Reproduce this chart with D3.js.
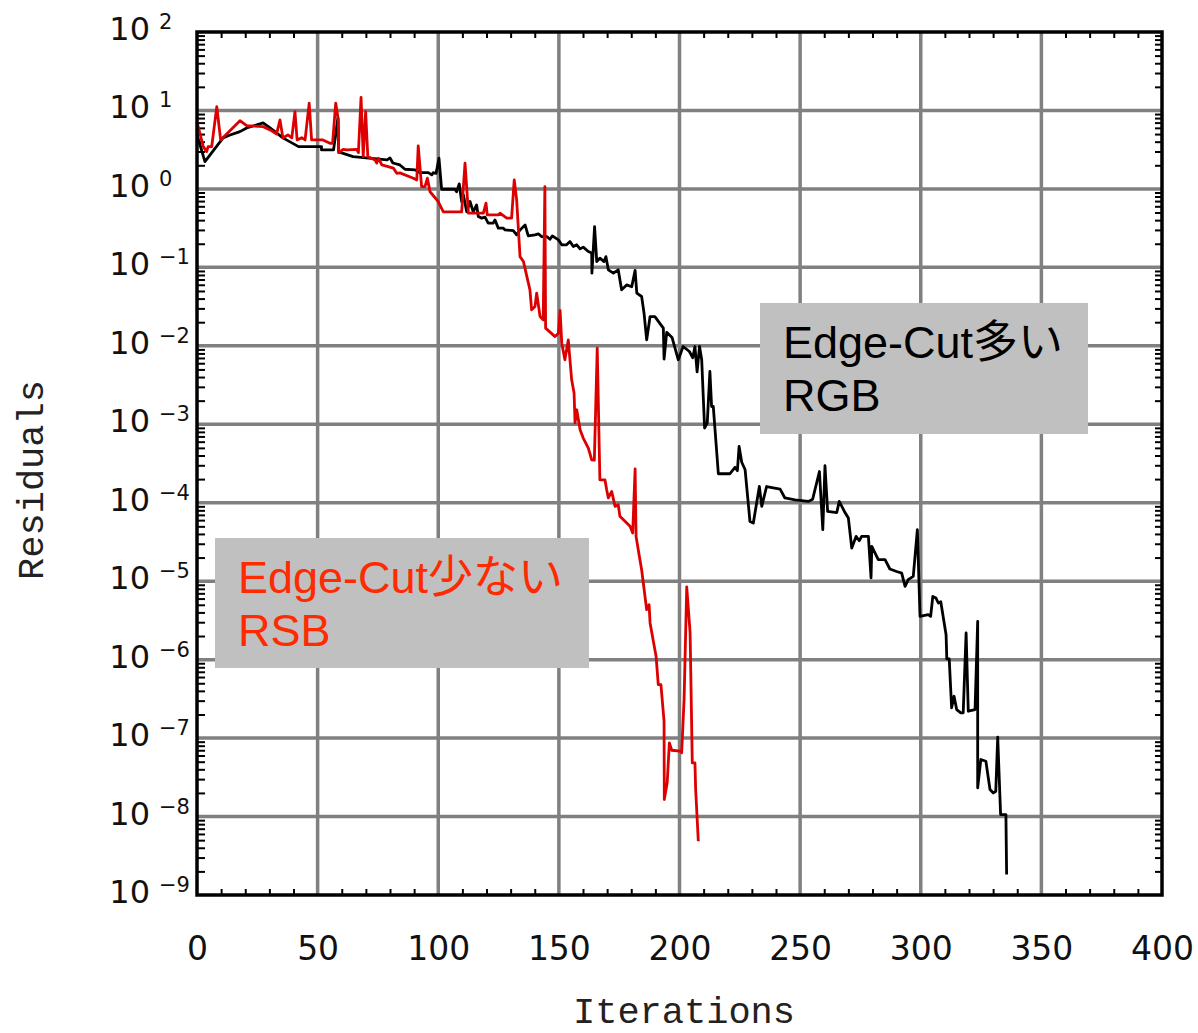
<!DOCTYPE html>
<html>
<head>
<meta charset="utf-8">
<title>Residuals vs Iterations</title>
<script src="https://cdn.jsdelivr.net/npm/d3@7"></script>
<style>
  body { margin: 0; background: #fff; }
  .grid line { stroke: #808080; stroke-width: 3.5; }
  .minor line { stroke: #000; stroke-width: 2; }
  .minor path { display: none; }
  .xlab text { font-family: "DejaVu Sans"; font-size: 33px; fill: #111; }
  .xlab path, .xlab line { display: none; }
  .ylab { font-family: "DejaVu Sans"; fill: #111; }
  .title { font-family: "Liberation Mono", monospace; font-size: 37px; fill: #222; }
  .legend text { font-family: "Liberation Sans", "Noto Sans CJK JP", sans-serif; font-size: 45px; }
  path.series { fill: none; stroke-width: 2.8; stroke-linejoin: round; }
</style>
</head>
<body>
<svg id="chart" width="1198" height="1033"></svg>
<script>
// ---- data: [iteration, residual] ----
const xTicks = [0, 50, 100, 150, 200, 250, 300, 350, 400]
const yExponents = [2, 1, 0, -1, -2, -3, -4, -5, -6, -7, -8, -9]

// "Edge-Cut多い RGB" (black)
const rgbSeries = [
  [0, 4.9], [3.3, 2.23], [10.8, 4.47], [13.7, 4.87], [17.8, 5.37], [20.6, 5.98], [27.4, 6.93],
  [30.3, 5.98], [35.6, 4.47], [42.1, 3.46], [51.6, 3.46], [51.6, 3.14], [56.6, 3.14], [58.4, 8.02],
  [58.7, 2.96], [64.7, 2.58], [78.8, 2.34], [80.0, 2.48], [81.2, 2.14], [84.1, 2.02], [86.2, 1.78],
  [90.4, 1.75], [92.4, 1.61], [95.9, 1.61], [97.3, 1.51], [97.9, 1.61], [99.1, 1.58], [100.3, 2.46],
  [101.4, 0.99], [106.9, 0.99], [107.6, 0.92], [108.7, 1.16], [109.7, 0.69], [110.4, 0.84],
  [111.8, 0.51], [113.2, 0.69], [114.5, 0.51], [115.9, 0.625], [116.6, 0.444], [118.0, 0.424],
  [119.4, 0.436], [120.7, 0.366], [122.8, 0.366], [123.5, 0.403], [124.9, 0.316], [127.0, 0.316],
  [127.7, 0.30], [131.1, 0.294], [132.5, 0.26], [133.9, 0.30], [136.0, 0.348], [137.3, 0.252],
  [140.1, 0.26], [141.5, 0.267], [142.9, 0.247], [145.0, 0.247], [146.3, 0.228], [147.3, 0.252],
  [149.8, 0.224], [151.2, 0.194], [153.2, 0.194], [154.6, 0.213], [156.0, 0.184], [157.4, 0.194],
  [158.8, 0.172], [160.1, 0.181], [162.2, 0.159], [163.6, 0.152], [163.7, 0.0843], [164.8, 0.331],
  [165.7, 0.1186], [167.0, 0.131], [168.7, 0.1186], [169.5, 0.137], [170.5, 0.093], [172.6, 0.0843],
  [174.6, 0.093], [176.0, 0.0517], [178.1, 0.0598], [180.2, 0.0565], [181.6, 0.0916], [182.3, 0.0469],
  [184.3, 0.0425], [185.3, 0.0261], [186.4, 0.0119], [187.8, 0.0236], [189.8, 0.0236], [193.3, 0.0168],
  [193.6, 0.00678], [194.7, 0.01486], [196.9, 0.0128], [199.5, 0.00664], [201.5, 0.0098],
  [204.1, 0.00846], [205.5, 0.00703], [206.4, 0.0098], [207.3, 0.00467], [208.3, 0.0098],
  [209.2, 0.00664], [210.4, 8.95e-4], [211.5, 1.035e-3], [212.6, 4.71e-3], [213.3, 1.686e-3],
  [214.0, 1.686e-3], [216.1, 2.34e-4], [220.9, 2.34e-4], [223.0, 2.83e-4], [224.0, 2.56e-4],
  [224.7, 5.21e-4], [225.8, 3.28e-4], [227.2, 2.63e-4], [229.2, 5.78e-5], [230.6, 5.51e-5],
  [233.1, 1.61e-4], [234.1, 8.98e-5], [236.1, 1.61e-4], [241.7, 1.49e-4], [243.7, 1.15e-4],
  [247.9, 1.09e-4], [253.4, 1.04e-4], [255.2, 1.11e-4], [258.0, 2.5e-4], [259.4, 4.53e-5],
  [260.3, 2.96e-4], [261.4, 7.76e-5], [265.2, 7.5e-5], [266.2, 1.04e-4], [268.6, 7.5e-5],
  [270.0, 6.38e-5], [271.4, 2.65e-5], [273.2, 3.72e-5], [274.5, 3.28e-5], [275.5, 3.72e-5],
  [278.3, 3.72e-5], [279.4, 1.1e-5], [279.7, 2.77e-5], [282.4, 1.88e-5], [285.2, 1.88e-5],
  [287.2, 1.43e-5], [290.0, 1.33e-5], [292.1, 1.27e-5], [293.5, 8.59e-6], [294.8, 1.045e-5],
  [296.9, 1.15e-5], [298.6, 4.53e-5], [299.7, 3.56e-6], [303.1, 3.74e-6], [304.1, 3.56e-6],
  [305.0, 6.4e-6], [306.3, 6.1e-6], [307.3, 5.27e-6], [308.3, 5.47e-6], [310.5, 2.08e-6],
  [310.8, 1.02e-6], [311.8, 1.02e-6], [312.8, 2.43e-7], [313.8, 3.41e-7], [314.9, 2.31e-7],
  [316.6, 2.1e-7], [317.6, 2.1e-7], [318.8, 2.19e-6], [319.7, 2.2e-7], [322.5, 2.31e-7],
  [323.6, 3.08e-6], [323.6, 2.32e-8], [324.9, 5.33e-8], [327.0, 5.07e-8], [328.7, 2.21e-8],
  [330.1, 2.0e-8], [331.1, 2.1e-8], [331.9, 1.03e-7], [333.1, 1.06e-8], [335.3, 1.06e-8],
  [335.6, 1.82e-9]
]

// "Edge-Cut少ない RSB" (red)
const rsbSeries = [
  [0, 7.1], [2.6, 3.46], [4.0, 2.99], [4.6, 3.46], [6.1, 3.46], [8.2, 11.2], [9.8, 4.21],
  [17.8, 7.41], [20.6, 6.4], [27.4, 6.22], [30.3, 5.65], [33.0, 5.02], [34.4, 7.57], [35.6, 4.47],
  [37.7, 4.87], [39.3, 4.47], [40.6, 9.66], [41.5, 4.21], [43.4, 4.5], [44.8, 4.21], [46.5, 12.4],
  [47.5, 4.21], [52.2, 4.21], [55.1, 3.82], [56.2, 3.82], [57.5, 12.4], [58.6, 7.57], [58.7, 2.9],
  [60.6, 3.2], [62.1, 3.14], [66.2, 3.2], [66.9, 2.9], [68.0, 14.7], [68.9, 2.58], [69.9, 9.66],
  [70.8, 2.58], [73.8, 2.34], [74.5, 2.13], [75.2, 2.46], [76.6, 2.02], [81.4, 1.84], [82.8, 1.58],
  [84.1, 1.6], [89.7, 1.37], [91.1, 1.30], [91.7, 3.53], [93.1, 1.07], [94.5, 1.07], [95.5, 1.37],
  [96.6, 0.92], [100.0, 0.69], [102.1, 0.51], [109.7, 0.51], [111.1, 2.13], [112.5, 0.49],
  [118.7, 0.49], [119.8, 0.657], [120.3, 0.466], [124.9, 0.466], [125.6, 0.49], [128.4, 0.424],
  [130.4, 0.424], [131.5, 1.30], [132.5, 0.724], [133.9, 0.137], [135.3, 0.119], [138.0, 0.0517],
  [138.7, 0.0288], [140.1, 0.0317], [140.8, 0.0469], [142.2, 0.0236], [143.5, 0.0214], [144.2, 1.07],
  [144.5, 0.0168], [148.4, 0.0131], [149.8, 0.0145], [150.5, 0.0282], [151.2, 0.0108],
  [152.5, 0.00664], [153.9, 0.0119], [155.3, 0.00369], [156.3, 0.0025], [156.7, 0.00104],
  [157.4, 0.00153], [158.8, 8.5e-4], [160.1, 6.67e-4], [162.2, 4.97e-4], [163.6, 3.53e-4],
  [164.7, 3.48e-4], [165.9, 9.35e-3], [167.0, 1.96e-4], [169.1, 1.96e-4], [169.8, 1.47e-4],
  [170.5, 1.15e-4], [171.9, 1.39e-4], [173.3, 8.98e-5], [174.6, 9.43e-5], [175.3, 6.7e-5],
  [179.5, 5.0e-5], [180.6, 4.12e-5], [181.6, 2.69e-4], [182.0, 3.72e-5], [182.9, 2.52e-5],
  [184.3, 1.4e-5], [186.4, 4.33e-6], [187.4, 5.02e-6], [187.8, 2.94e-6], [190.3, 1.1e-6],
  [191.2, 4.8e-7], [192.3, 4.8e-7], [193.6, 1.64e-7], [193.7, 1.65e-8], [194.9, 2.69e-8],
  [195.8, 8.7e-8], [196.8, 7.0e-8], [200.2, 6.8e-8], [200.9, 6.5e-8], [201.9, 3.09e-7],
  [203.0, 8.43e-6], [204.4, 2.19e-6], [205.3, 4.83e-8], [206.4, 4.83e-8], [206.7, 2.21e-8],
  [207.8, 4.84e-9]
]

const legendRGB = ["Edge-Cut多い", "RGB"]
const legendRSB = ["Edge-Cut少ない", "RSB"]

// ---- layout ----
const svg = d3.select("#chart")
const plotL = 197, plotR = 1162, plotT = 32, plotB = 895

const x = d3.scaleLinear().domain([0, 400]).range([plotL, plotR])
const y = d3.scaleLog().domain([1e-9, 1e2]).range([plotB, plotT])

// grid lines
const grid = svg.append("g").attr("class", "grid")
grid.selectAll("line.v")
    .data(xTicks.slice(1, -1))
    .join("line")
    .attr("class", "v")
    .attr("x1", d => x(d)).attr("x2", d => x(d))
    .attr("y1", plotT).attr("y2", plotB)
grid.selectAll("line.h")
    .data(yExponents.slice(1, -1))
    .join("line")
    .attr("class", "h")
    .attr("x1", plotL).attr("x2", plotR)
    .attr("y1", d => y(Math.pow(10, d))).attr("y2", d => y(Math.pow(10, d)))

// minor ticks, pointing inward
const xMinor = d3.range(10, 400, 10).filter(d => d % 50 !== 0)
const yMinor = []
yExponents.slice(1).forEach(e => {
  for (let m = 2; m <= 9; m++) yMinor.push(m * Math.pow(10, e))
})

svg.append("g").attr("class", "minor")
   .attr("transform", `translate(0,${plotB})`)
   .call(d3.axisBottom(x).tickValues(xMinor).tickSize(-6).tickFormat(""))
svg.append("g").attr("class", "minor")
   .attr("transform", `translate(0,${plotT})`)
   .call(d3.axisTop(x).tickValues(xMinor).tickSize(-6).tickFormat(""))
svg.append("g").attr("class", "minor")
   .attr("transform", `translate(${plotL},0)`)
   .call(d3.axisLeft(y).tickValues(yMinor).tickSize(-8).tickFormat(""))
svg.append("g").attr("class", "minor")
   .attr("transform", `translate(${plotR},0)`)
   .call(d3.axisRight(y).tickValues(yMinor).tickSize(-7).tickFormat(""))

// x tick labels
svg.append("g").attr("class", "xlab")
   .attr("transform", `translate(0,${plotB})`)
   .call(d3.axisBottom(x).tickValues(xTicks).tickSize(0).tickPadding(0).tickFormat(d3.format("d")))
   .selectAll("text").attr("dy", null).attr("y", 65)

// y tick labels: 10 with exponent
const ylab = svg.append("g")
ylab.selectAll("text.base")
    .data(yExponents)
    .join("text")
    .attr("class", "ylab base")
    .attr("x", 150)
    .attr("y", d => y(Math.pow(10, d)) + 8)
    .attr("text-anchor", "end")
    .style("font-size", "32px")
    .text("10")
ylab.selectAll("text.exp")
    .data(yExponents)
    .join("text")
    .attr("class", "ylab exp")
    .attr("x", 159)
    .attr("y", d => y(Math.pow(10, d)) - 3)
    .style("font-size", "21px")
    .text(d => d < 0 ? "\u2212" + (-d) : String(d))

// series
const line = d3.line().x(d => x(d[0])).y(d => y(d[1]))
svg.append("path").attr("class", "series")
   .datum(rgbSeries).attr("stroke", "#000").attr("d", line)
svg.append("path").attr("class", "series")
   .datum(rsbSeries).attr("stroke", "#dd0000").attr("d", line)

// frame
svg.append("rect")
   .attr("x", plotL).attr("y", plotT)
   .attr("width", plotR - plotL).attr("height", plotB - plotT)
   .attr("fill", "none").attr("stroke", "#000").attr("stroke-width", 3.5)

// axis titles
svg.append("text").attr("class", "title")
   .attr("x", 684).attr("y", 1023)
   .attr("text-anchor", "middle")
   .text("Iterations")
svg.append("text").attr("class", "title")
   .attr("transform", "translate(43,480) rotate(-90)")
   .attr("text-anchor", "middle")
   .text("Residuals")

// legend boxes
function legendBox(bx, by, bw, bh, lines, color) {
  const g = svg.append("g").attr("class", "legend")
  g.append("rect").attr("x", bx).attr("y", by)
   .attr("width", bw).attr("height", bh).attr("fill", "#c0c0c0")
  g.selectAll("text").data(lines).join("text")
   .attr("x", bx + 23)
   .attr("y", (d, i) => by + 55 + i * 53)
   .attr("fill", color)
   .text(d => d)
}
legendBox(760, 303, 328, 131, legendRGB, "#000")
legendBox(215, 538, 374, 130, legendRSB, "#ff2a00")
</script>
</body>
</html>
